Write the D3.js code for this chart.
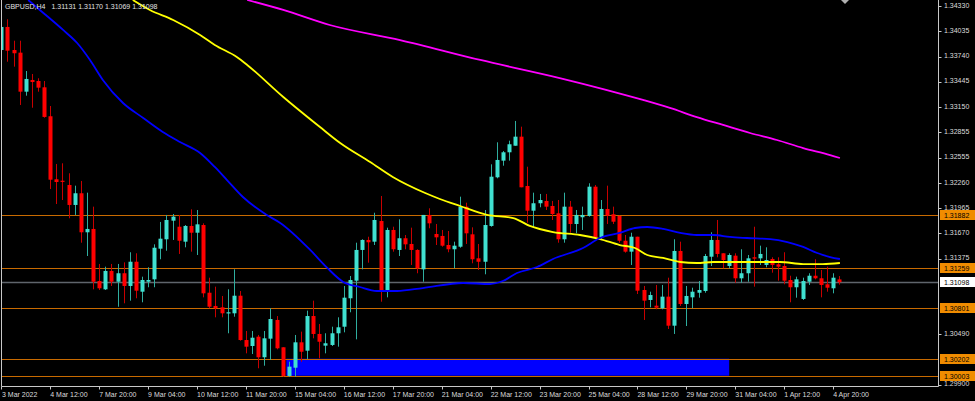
<!DOCTYPE html>
<html><head><meta charset="utf-8">
<script src="https://cdn.jsdelivr.net/npm/d3@7"></script>
<style>
html,body{margin:0;padding:0;background:#000;overflow:hidden}
svg{display:block}
text{font-family:"Liberation Sans",Arial,sans-serif}
</style>
</head><body>
<svg id="c" width="975" height="401"></svg>
<script>
// ---------------- DATA ----------------
const titleSymbol = "GBPUSD,H4";
const titleValues = "1.31131 1.31170 1.31069 1.31098";

const opens = [1.33818,1.34088,1.33818,1.33787,1.33330,1.33467,1.33455,1.33381,1.33042,1.32304,
1.32287,1.32237,1.32003,1.32140,1.31683,1.31722,1.31112,1.31015,1.31230,1.31104,
1.31203,1.31054,1.31338,1.30987,1.31104,1.31132,1.31491,1.31601,1.31819,1.31748,
1.31573,1.31757,1.31678,1.31768,1.30975,1.30820,1.30804,1.30734,1.30734,1.30940,
1.30421,1.30351,1.30460,1.30219,1.30437,1.30656,1.30336,1.30000,1.30097,1.30394,
1.30296,1.30702,1.30492,1.30355,1.30363,1.30500,1.30577,1.30910,1.31116,1.31476,
1.31593,1.31573,1.31815,1.30987,1.31710,1.31476,1.31613,1.31546,1.31476,1.31249,
1.31886,1.31663,1.31640,1.31534,1.31484,1.31514,1.31983,1.31659,1.31378,1.31338,
1.31757,1.32327,1.32522,1.32620,1.32697,1.32803,1.32225,1.31936,1.32023,1.32050,
1.31991,1.31905,1.31601,1.31983,1.31780,1.31859,1.31874,1.32217,1.31624,1.31956,
1.31894,1.31874,1.31584,1.31456,1.31631,1.31007,1.30890,1.30823,1.30793,1.30929,
1.30589,1.31464,1.30843,1.30921,1.30975,1.30995,1.31397,1.31593,1.31437,1.31288,
1.31409,1.31144,1.31203,1.31390,1.31378,1.31300,1.31370,1.31308,1.31288,1.31124,
1.31039,1.30902,1.31104,1.31174,1.31144,1.31074,1.31027,1.31131];

const highs = [1.34123,1.34178,1.33927,1.33927,1.33572,1.33537,1.33487,1.33455,1.33162,1.32483,
1.32491,1.32374,1.32229,1.32284,1.32147,1.31983,1.31312,1.31280,1.31312,1.31312,
1.31331,1.31449,1.31437,1.31163,1.31273,1.31542,1.31804,1.31886,1.31897,1.31886,
1.31768,1.31952,1.31944,1.31788,1.31151,1.31046,1.30937,1.31015,1.31249,1.30995,
1.30527,1.30527,1.30480,1.30527,1.30793,1.30702,1.30336,1.30167,1.30480,1.30519,
1.30765,1.30882,1.30609,1.30500,1.30577,1.30687,1.31054,1.31171,1.31561,1.31601,
1.31631,1.31912,1.32108,1.31737,1.31748,1.31835,1.31651,1.31737,1.31484,1.31886,
1.31964,1.31780,1.31710,1.31698,1.31573,1.32100,1.32030,1.31741,1.31546,1.31944,
1.32479,1.32737,1.32635,1.32756,1.32987,1.32920,1.32451,1.32147,1.32132,1.32132,
1.32050,1.32061,1.32147,1.32050,1.31944,1.31983,1.32257,1.32237,1.32061,1.32229,
1.31983,1.31877,1.31651,1.31678,1.31631,1.31054,1.30987,1.31066,1.31066,1.31151,
1.31601,1.31573,1.31054,1.31034,1.31112,1.31429,1.31683,1.31827,1.31437,1.31437,
1.31437,1.31484,1.31417,1.31748,1.31526,1.31507,1.31390,1.31390,1.31449,1.31174,
1.31163,1.31151,1.31203,1.31367,1.31241,1.31280,1.31203,1.31170];

const lows = [1.33795,1.33681,1.33623,1.33174,1.33283,1.33142,1.33330,1.33025,1.32190,1.32014,
1.32061,1.31847,1.31886,1.31561,1.31405,1.31015,1.31007,1.31007,1.31054,1.30811,
1.30851,1.30882,1.30910,1.30863,1.31039,1.31039,1.31367,1.31467,1.31593,1.31429,
1.31507,1.31456,1.31417,1.30921,1.30793,1.30687,1.30687,1.30500,1.30694,1.30413,
1.30265,1.30257,1.30090,1.30120,1.30187,1.30312,1.29991,1.29991,1.29991,1.30167,
1.30199,1.30441,1.30207,1.30265,1.30351,1.30343,1.30511,1.30746,1.30429,1.31249,
1.31327,1.31534,1.30870,1.30921,1.31456,1.31405,1.31484,1.31300,1.31203,1.31104,
1.31730,1.31534,1.31514,1.31449,1.31261,1.31502,1.31546,1.31320,1.31241,1.31191,
1.31748,1.32315,1.32463,1.32522,1.32697,1.32210,1.31795,1.31741,1.31976,1.31944,
1.31827,1.31561,1.31561,1.31678,1.31671,1.31710,1.31866,1.31613,1.31601,1.31780,
1.31780,1.31561,1.31444,1.31300,1.30960,1.30656,1.30804,1.30781,1.30781,1.30550,
1.30492,1.30820,1.30585,1.30793,1.30917,1.30975,1.31288,1.31390,1.31261,1.31261,
1.31092,1.31092,1.31104,1.31046,1.31300,1.31273,1.31210,1.31116,1.31074,1.30863,
1.30917,1.30890,1.31066,1.31132,1.30921,1.30987,1.30968,1.31069];

const closes = [1.34088,1.33810,1.33780,1.33330,1.33479,1.33443,1.33377,1.33034,1.32299,1.32272,
1.32276,1.32003,1.32140,1.31683,1.31722,1.31104,1.31027,1.31230,1.31104,1.31203,
1.31054,1.31338,1.30999,1.31124,1.31124,1.31502,1.31608,1.31827,1.31866,1.31584,
1.31757,1.31678,1.31776,1.30968,1.30811,1.30793,1.30734,1.30746,1.30940,1.30421,
1.30343,1.30448,1.30219,1.30441,1.30667,1.30324,1.30000,1.30109,1.30394,1.30284,
1.30702,1.30492,1.30401,1.30383,1.30500,1.30570,1.30917,1.31124,1.31476,1.31593,
1.31566,1.31827,1.30987,1.31710,1.31484,1.31613,1.31542,1.31476,1.31261,1.31886,
1.31788,1.31624,1.31526,1.31484,1.31526,1.31983,1.31671,1.31367,1.31338,1.31768,
1.32334,1.32530,1.32620,1.32714,1.32803,1.32210,1.31936,1.32023,1.32061,1.31983,
1.31897,1.31601,1.31983,1.31780,1.31886,1.31886,1.32217,1.31624,1.31956,1.31877,
1.31807,1.31584,1.31456,1.31631,1.30999,1.30882,1.30948,1.30800,1.30929,1.30589,
1.31464,1.30843,1.30937,1.30987,1.31007,1.31405,1.31593,1.31429,1.31358,1.31417,
1.31144,1.31203,1.31378,1.31374,1.31429,1.31358,1.31300,1.31280,1.31116,1.31039,
1.31132,1.31112,1.31174,1.31144,1.31066,1.31034,1.31151,1.31098];

// moving averages (bar position, price)
const maBlueBars   = [4.4,6.3,10.1,12.4,14.5,16.6,19.9,23.2,26.4,29.2,32.5,34.9,36.9,39.5,43.4,45.6,50.5,53.3,55.9,58.6,61.4,64.7,68.9,75.5,79.9,82.0,84.3,87.6,90.2,95.1,97.9,101.1,103.6,105.6,108.2,111.0,113.7,116.4,119.1,121.9,125.7,128.5,131.1,133.4,135.5,137.1];
const maBlueValues = [1.34404,1.34287,1.34053,1.33900,1.33701,1.33467,1.33197,1.33022,1.32858,1.32741,1.32612,1.32448,1.32295,1.32096,1.31885,1.31792,1.31476,1.31265,1.31101,1.31042,1.30995,1.30995,1.31030,1.31089,1.31077,1.31112,1.31206,1.31276,1.31370,1.31499,1.31616,1.31675,1.31733,1.31745,1.31722,1.31675,1.31651,1.31651,1.31628,1.31616,1.31604,1.31569,1.31511,1.31440,1.31393,1.31370];

const maYellowBars   = [21.5,24.3,28.1,32.5,34.9,38.5,40.2,46.1,52.1,55.4,60.3,64.0,69.3,71.7,75.0,79.4,83.7,86.4,90.2,94.6,97.9,101.1,103.6,105.6,108.2,111.0,113.7,116.4,123.5,127.3,131.1,134.3,137.1];
const maYellowValues = [1.34404,1.34287,1.34170,1.33994,1.33877,1.33736,1.33643,1.33268,1.32916,1.32729,1.32506,1.32331,1.32143,1.32073,1.31991,1.31886,1.31850,1.31757,1.31686,1.31651,1.31604,1.31534,1.31499,1.31417,1.31382,1.31335,1.31323,1.31335,1.31335,1.31335,1.31311,1.31311,1.31323];

const maMagentaBars   = [40.2,46.1,53.7,65.2,78.3,91.3,104.9,109.3,113.7,118.0,122.4,126.8,131.1,135.5,137.1];
const maMagentaValues = [1.34404,1.34287,1.34111,1.33935,1.33701,1.33490,1.33233,1.33139,1.33033,1.32940,1.32846,1.32764,1.32670,1.32588,1.32553];

const timeLabels = ["3 Mar 2022","4 Mar 12:00","7 Mar 20:00","9 Mar 04:00","10 Mar 12:00","11 Mar 20:00","15 Mar 04:00","16 Mar 12:00","17 Mar 20:00","21 Mar 04:00","22 Mar 12:00","23 Mar 20:00","25 Mar 04:00","28 Mar 12:00","29 Mar 20:00","31 Mar 04:00","1 Apr 12:00","4 Apr 20:00"];
const timeLabelBars = [0,8,16,24,32,40,48,56,64,72,80,88,96,104,112,120,128,136];

const priceTicks = [1.34330,1.34035,1.33740,1.33445,1.33150,1.32855,1.32555,1.32260,1.31965,1.31670,1.31375,1.30490,1.29900];
const levelPrices = [1.31882,1.31259,1.30801,1.30202,1.30003];
const lastPrice = 1.31098;
const zoneBars = [46.6,119.0];
const zonePrices = [1.30003,1.30202];

// ---------------- DRAW ----------------
const fmt5 = v => { const n = Math.round(v*1e5); return Math.floor(n/1e5) + "." + String(n % 100000).padStart(5,"0"); };
const svg = d3.select("#c");
const plotL = 1.5, plotR = 938.5, plotB = 386.5;
const x = d3.scaleLinear().domain([0,137]).range([1.3,839.3]);
const y = d3.scaleLinear().domain([1.29900,1.34330]).range([384.5,6.3]);

svg.append("rect").attr("width",975).attr("height",401).attr("fill","#000");

svg.append("defs").append("clipPath").attr("id","plot")
  .append("rect").attr("x",plotL).attr("y",0).attr("width",plotR-plotL).attr("height",plotB);

const g = svg.append("g").attr("clip-path","url(#plot)");

// zone rectangle
g.append("rect")
  .attr("x",x(zoneBars[0])).attr("width",x(zoneBars[1])-x(zoneBars[0]))
  .attr("y",y(zonePrices[1])).attr("height",y(zonePrices[0])-y(zonePrices[1]))
  .attr("fill","#0000ff");

// horizontal levels
g.selectAll("line.level").data(levelPrices).enter().append("line")
  .attr("x1",plotL).attr("x2",plotR)
  .attr("y1",d=>Math.round(y(d))+0.5).attr("y2",d=>Math.round(y(d))+0.5)
  .attr("stroke","#c86a00").attr("stroke-width",1.2);
g.append("line").attr("x1",plotL).attr("x2",plotR)
  .attr("y1",Math.round(y(lastPrice))+0.5).attr("y2",Math.round(y(lastPrice))+0.5)
  .attr("stroke","#5f656c").attr("stroke-width",1.4);

// candles
const bars = d3.range(opens.length);
const bullBody="#40e0d0", bearBody="#ff0000", bullWick="#2fae9f", bearWick="#c80000";
const cg = g.append("g");
cg.selectAll("line.wick").data(bars).enter().append("line")
  .attr("x1",i=>Math.round(x(i))+0.5).attr("x2",i=>Math.round(x(i))+0.5)
  .attr("y1",i=>y(highs[i])).attr("y2",i=>y(lows[i]))
  .attr("stroke",i=>closes[i]>=opens[i]?bullWick:bearWick).attr("stroke-width",1);
cg.selectAll("rect.body").data(bars).enter().append("rect")
  .attr("x",i=>Math.round(x(i))-1.5)
  .attr("width",4)
  .attr("y",i=>y(Math.max(opens[i],closes[i])))
  .attr("height",i=>Math.max(1.2,Math.abs(y(opens[i])-y(closes[i]))))
  .attr("fill",i=>closes[i]>=opens[i]?bullBody:bearBody);

// moving averages
function drawMA(bx,vals,color){
  const pts = bx.map((b,k)=>[x(b),y(vals[k])]);
  g.append("path").attr("d",d3.line().curve(d3.curveMonotoneX)(pts))
    .attr("fill","none").attr("stroke",color).attr("stroke-width",1.8);
}
drawMA(maMagentaBars,maMagentaValues,"#ff00ff");
drawMA(maYellowBars,maYellowValues,"#ffff00");
drawMA(maBlueBars,maBlueValues,"#0000ff");

// frame
svg.append("line").attr("x1",plotL).attr("x2",plotL).attr("y1",0).attr("y2",plotB).attr("stroke","#c8c8c8");
svg.append("line").attr("x1",plotR).attr("x2",plotR).attr("y1",0).attr("y2",plotB).attr("stroke","#c8c8c8");
svg.append("line").attr("x1",plotL).attr("x2",plotR).attr("y1",plotB).attr("y2",plotB).attr("stroke","#c8c8c8");

// shift marker
svg.append("path").attr("d","M841,0L849,0L845,4Z").attr("fill","#b0b0b0");

// right axis
const axisColor="#dcdcdc";
const ra = svg.append("g");
ra.selectAll("line").data(priceTicks).enter().append("line")
  .attr("x1",plotR).attr("x2",plotR+3)
  .attr("y1",d=>Math.round(y(d))+0.5).attr("y2",d=>Math.round(y(d))+0.5)
  .attr("stroke","#c8c8c8");
ra.selectAll("text").data(priceTicks).enter().append("text")
  .attr("x",944).attr("y",d=>y(d)+1.5)
  .attr("font-size",7).attr("fill",axisColor)
  .text(d=>fmt5(d));

// level labels
const lb = svg.append("g");
levelPrices.forEach(p=>{
  lb.append("rect").attr("x",940).attr("y",Math.round(y(p))-5).attr("width",35).attr("height",10).attr("fill","#f08c00");
  lb.append("text").attr("x",944).attr("y",Math.round(y(p))+2.8).attr("font-size",7).attr("fill","#000").text(fmt5(p));
});
lb.append("rect").attr("x",940).attr("y",Math.round(y(lastPrice))-5).attr("width",35).attr("height",10).attr("fill","#ffffff");
lb.append("text").attr("x",944).attr("y",Math.round(y(lastPrice))+2.8).attr("font-size",7).attr("fill","#000").text(fmt5(lastPrice));

// bottom axis
const ba = svg.append("g");
ba.selectAll("line").data(timeLabelBars).enter().append("line")
  .attr("x1",b=>Math.round(x(b))+0.5).attr("x2",b=>Math.round(x(b))+0.5)
  .attr("y1",plotB).attr("y2",plotB+3).attr("stroke","#c8c8c8");
ba.selectAll("text").data(timeLabelBars).enter().append("text")
  .attr("x",b=>Math.max(2,x(b)))
  .attr("y",397).attr("font-size",7).attr("fill",axisColor)
  .text((b,k)=>timeLabels[k]);

// title
const t = svg.append("text").attr("x",5).attr("y",8.5).attr("font-size",7).attr("fill","#e0e0e0");
t.append("tspan").text(titleSymbol);
t.append("tspan").attr("dx",6).text(titleValues);
</script>
</body></html>
